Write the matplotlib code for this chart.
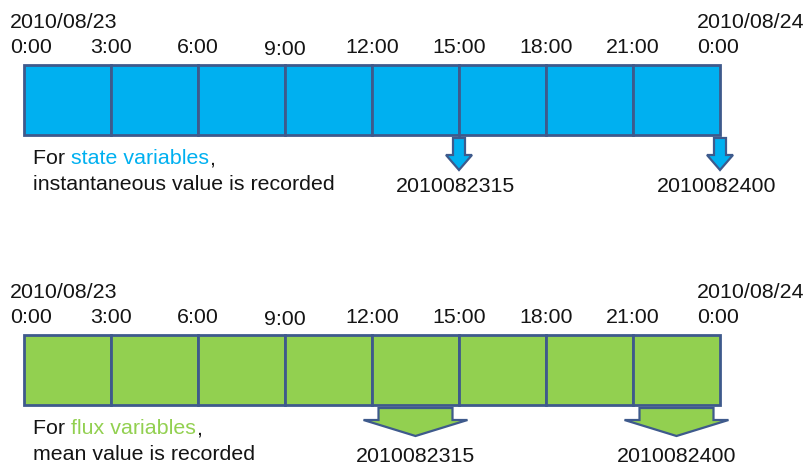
import matplotlib
matplotlib.use("Agg")
import matplotlib.pyplot as plt
from matplotlib.patches import Rectangle, Polygon

# ---- data ----
hours = [0, 3, 6, 9, 12, 15, 18, 21, 24]
hour_labels = ["0:00", "3:00", "6:00", "9:00", "12:00", "15:00", "18:00", "21:00", "0:00"]
start_date = "2010/08/23"
end_date = "2010/08/24"
record_hours = [15, 24]
record_labels = ["2010082315", "2010082400"]
interval = 3

panels = [
    {"kind": "state", "word": "state variables", "line2": "instantaneous value is recorded"},
    {"kind": "flux", "word": "flux variables", "line2": "mean value is recorded"},
]

# ---- style ----
BLUE = "#00B0F0"
GREEN = "#92D050"
EDGE = "#3E5A8C"
FONT = ["Liberation Sans", "DejaVu Sans"]
FS = 15.4
TXT = "#141414"

W, H = 804, 465
fig = plt.figure(figsize=(W / 100, H / 100), dpi=100)
ax = fig.add_axes([0, 0, 1, 1])
px_per_hour = 29.0
x0_px = 24.0
ax.set_xlim(-x0_px / px_per_hour, (W - x0_px) / px_per_hour)
ax.set_ylim(H, 0)
ax.axis("off")

def px(dx):
    return dx / px_per_hour

panel_top = [65, 335]
bar_h = 70

for p, top in zip(panels, panel_top):
    fill = BLUE if p["kind"] == "state" else GREEN
    # cells
    for h0, h1 in zip(hours[:-1], hours[1:]):
        ax.add_patch(Rectangle((h0, top), h1 - h0, bar_h, facecolor=fill,
                               edgecolor=EDGE, linewidth=2.0, zorder=2))
    # date labels
    ax.text(-px(14), top - 37, start_date, fontsize=FS, family=FONT,
            ha="left", va="baseline", color=TXT)
    ax.text(hours[-1] - px(23), top - 37, end_date, fontsize=FS, family=FONT,
            ha="left", va="baseline", color=TXT)
    # hour labels
    for i, (h, lab) in enumerate(zip(hours, hour_labels)):
        if i == 0:
            ax.text(-px(14), top - 12, lab, fontsize=FS, family=FONT,
                    ha="left", va="baseline", color=TXT)
        elif i == len(hours) - 1:
            ax.text(h - px(23), top - 12, lab, fontsize=FS, family=FONT,
                    ha="left", va="baseline", color=TXT)
        else:
            dy = -10 if lab == "9:00" else -12
            ax.text(h, top + dy, lab, fontsize=FS, family=FONT,
                    ha="center", va="baseline", color=TXT)
    # description text
    t1 = ax.text(px(9), top + 99, "For ", fontsize=FS, family=FONT,
                 ha="left", va="baseline", color=TXT)
    fig.canvas.draw()
    ann = ax.annotate(p["word"], xycoords=t1, xy=(1, 0), va="bottom",
                      fontsize=FS, family=FONT, color=fill)
    ax.annotate(",", xycoords=ann, xy=(1, 0), va="bottom",
                fontsize=FS, family=FONT, color=TXT)
    ax.text(px(9), top + 125, p["line2"], fontsize=FS, family=FONT,
            ha="left", va="baseline", color=TXT)

    # arrows and record labels
    for rh, rl in zip(record_hours, record_labels):
        if p["kind"] == "state":
            c = rh
            y_s, y_h, y_t = top + 73, top + 90, top + 105
            sw, hw = px(6), px(13)
            lab_x = c - px(3)
        else:
            c = rh - interval / 2
            y_s, y_h, y_t = top + 73, top + 85, top + 101
            sw, hw = px(37), px(52)
            lab_x = c
        pts = [(c - sw, y_s), (c + sw, y_s), (c + sw, y_h), (c + hw, y_h),
               (c, y_t), (c - hw, y_h), (c - sw, y_h)]
        ax.add_patch(Polygon(pts, closed=True, facecolor=fill, edgecolor=EDGE,
                             linewidth=1.6, joinstyle="miter", zorder=2))
        ax.text(lab_x, top + 127, rl, fontsize=FS, family=FONT, ha="center",
                va="baseline", color=TXT)

fig.savefig("out.png", dpi=100, facecolor="white")
